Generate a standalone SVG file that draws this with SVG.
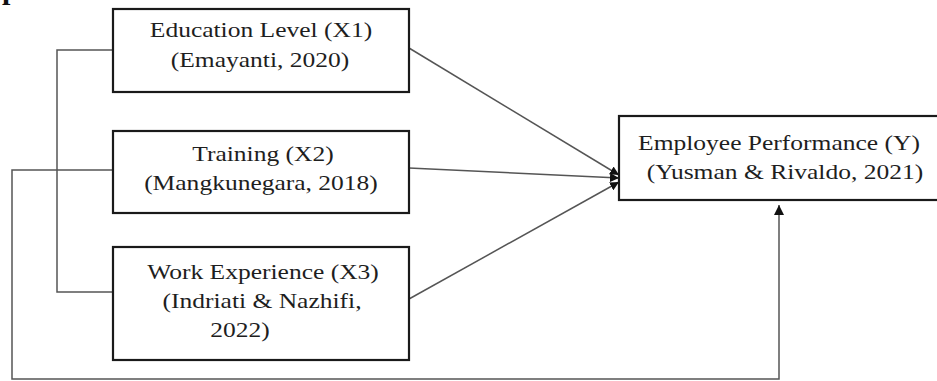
<svg xmlns="http://www.w3.org/2000/svg" width="937" height="381" viewBox="0 0 937 381">
<style>
.box{fill:#fff;stroke:#1a1a1a;stroke-width:2.2}
.t{font-family:"Liberation Serif","Times New Roman",serif;font-size:22px;fill:#1e1e1e;text-anchor:middle}
.c{fill:none;stroke:#555;stroke-width:1.5}
.hdr{font-family:"Liberation Serif","Times New Roman",serif;font-size:30px;font-weight:bold;fill:#111}
</style>
<defs>
<marker id="ah" viewBox="0 0 10 10" refX="10" refY="5" markerWidth="9" markerHeight="9" markerUnits="userSpaceOnUse" orient="auto">
<path d="M0,0 L10,5 L0,10 z" fill="#111"/>
</marker>
<marker id="ah2" viewBox="0 0 10 10" refX="10" refY="5" markerWidth="10" markerHeight="10" markerUnits="userSpaceOnUse" orient="auto">
<path d="M0,0 L10,5 L0,10 z" fill="#111"/>
</marker>
</defs>
<rect width="937" height="381" fill="#fff"/>
<text class="hdr" x="2" y="-1">p</text>
<g id="connectors">
<polyline class="c" points="113,50 57,50 57,292 113,292"/>
<polyline class="c" points="113,170 12,170 12,379 779,379 779,205" marker-end="url(#ah2)"/>
<line class="c" x1="409" y1="48" x2="619" y2="175" marker-end="url(#ah)"/>
<line class="c" x1="409" y1="168" x2="619" y2="178" marker-end="url(#ah)"/>
<line class="c" x1="409" y1="299" x2="619" y2="182" marker-end="url(#ah)"/>
</g>
<g id="x1">
<rect class="box" x="113" y="9" width="296" height="83"/>
<text class="t" transform="translate(261,37) scale(1.16,1)">Education Level (X1)</text>
<text class="t" transform="translate(260,67) scale(1.16,1)">(Emayanti, 2020)</text>
</g>
<g id="x2">
<rect class="box" x="113" y="131" width="296" height="82"/>
<text class="t" transform="translate(263,161) scale(1.16,1)">Training (X2)</text>
<text class="t" transform="translate(261,190) scale(1.16,1)">(Mangkunegara, 2018)</text>
</g>
<g id="x3">
<rect class="box" x="113" y="247" width="296" height="113"/>
<text class="t" transform="translate(263,279) scale(1.16,1)">Work Experience (X3)</text>
<text class="t" transform="translate(262,308) scale(1.16,1)">(Indriati &amp; Nazhifi,</text>
<text class="t" transform="translate(240,337) scale(1.16,1)">2022)</text>
</g>
<g id="y">
<rect class="box" x="619" y="116" width="340" height="84"/>
<text class="t" transform="translate(779,150) scale(1.16,1)">Employee Performance (Y)</text>
<text class="t" transform="translate(785,179) scale(1.16,1)">(Yusman &amp; Rivaldo, 2021)</text>
</g>
</svg>
